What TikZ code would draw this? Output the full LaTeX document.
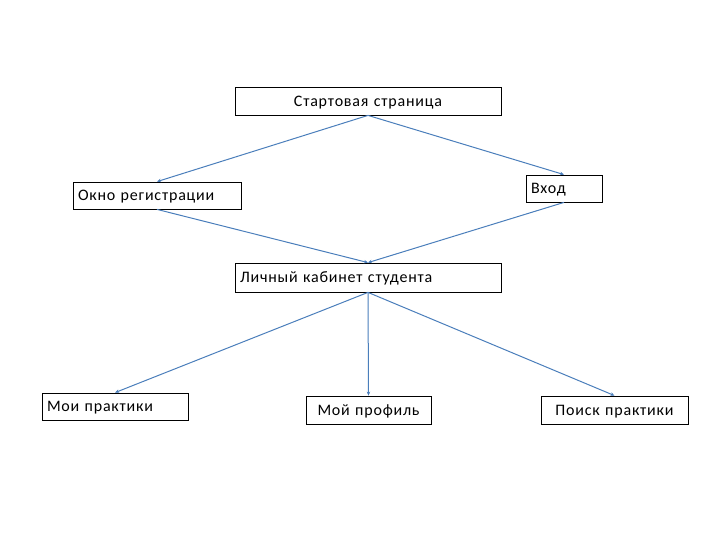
\documentclass[tikz,border=0pt]{standalone}
\usepackage{fontspec}
\setmainfont{Carlito}[LetterSpace=5]
\usetikzlibrary{arrows.meta}
\definecolor{linkblue}{HTML}{4A7EBB}
\tikzset{
  boxnode/.style={draw=black, line width=0.8pt, inner xsep=5pt, inner ysep=0pt,
    font=\fontsize{16}{18}\selectfont, text height=12.5pt, text depth=2pt},
  link/.style={draw=linkblue, line width=1pt, -{Stealth[length=4pt,width=3.5pt]}}
}
\begin{document}
\begin{tikzpicture}[x=1pt,y=-1pt]
\useasboundingbox (0,0) rectangle (720,540);
\node[boxnode, text width=256pt, align=center, minimum height=28pt] (start) at (368,101) {Стартовая страница};
\node[boxnode, text width=158pt, align=left, minimum height=27pt] (reg) at (157,195.5) {Окно регистрации};
\node[boxnode, text width=66pt, align=left, minimum height=27pt] (vhod) at (564,188.5) {Вход};
\node[boxnode, text width=256pt, align=left, minimum height=29pt] (lk) at (368,277.5) {Личный кабинет студента};
\node[boxnode, text width=136pt, align=left, minimum height=27pt] (mp) at (115,406.5) {Мои практики};
\node[boxnode, text width=115pt, align=center, minimum height=28pt] (prof) at (368.5,410) {Мой профиль};
\node[boxnode, text width=137pt, align=center, minimum height=28pt] (poisk) at (614.5,410) {Поиск практики};
\draw[link] (start.south) -- (reg.north);
\draw[link] (start.south) -- (vhod.north);
\draw[link] (reg.south) -- (lk.north);
\draw[link] (vhod.south) -- (lk.north);
\draw[link] (lk.south) -- (mp.north);
\draw[link] (lk.south) -- (prof.north);
\draw[link] (lk.south) -- (poisk.north);
\end{tikzpicture}
\end{document}
